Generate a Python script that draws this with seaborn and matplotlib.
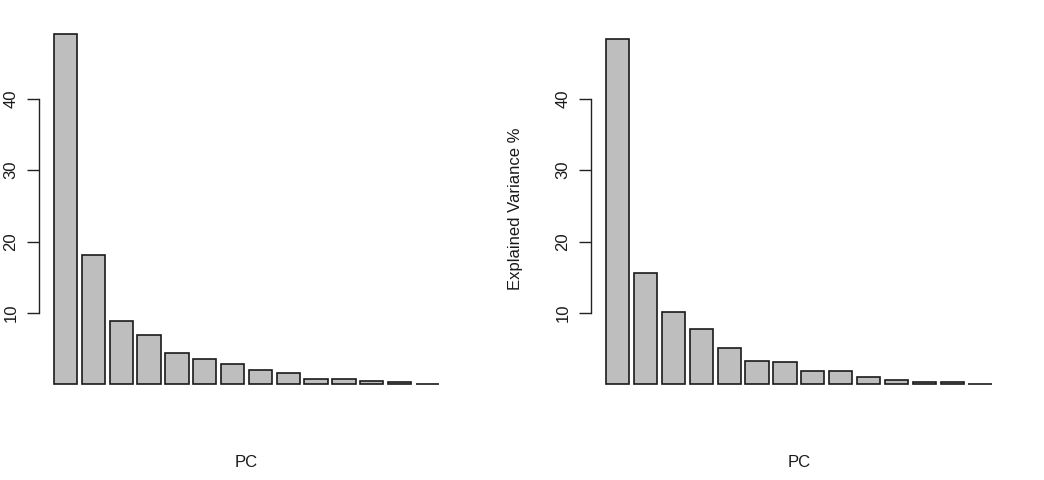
import matplotlib
matplotlib.use("Agg")
import matplotlib.pyplot as plt
import seaborn as sns
import pandas as pd

# ---- data (explained variance %) ----
pcs = [f"PC{i}" for i in range(1, 15)]
var_a = [49.06, 18.10, 8.93, 6.88, 4.37, 3.53, 2.87, 2.07, 1.61, 0.81, 0.77, 0.53, 0.35, 0.11]
var_b = [48.30, 15.57, 10.10, 7.72, 5.15, 3.33, 3.10, 1.89, 1.87, 1.10, 0.68, 0.40, 0.38, 0.10]
y_ticks = [10, 20, 30, 40]
x_label = "PC"
y_label = "Explained Variance %"

sns.set_theme(style="white")
plt.rcParams["font.family"] = ["Liberation Sans", "DejaVu Sans"]

W, H = 1044, 480
fig = plt.figure(figsize=(W / 100, H / 100), dpi=100)

def px_axes(x0, x1, y0, y1):
    return fig.add_axes([x0 / W, 1 - y1 / H, (x1 - x0) / W, (y1 - y0) / H])

axes = [px_axes(38.6, 454.4, 20, 398.5), px_axes(590.6, 1007.1, 20, 398.5)]

for i, (ax, vals) in enumerate(zip(axes, [var_a, var_b])):
    df = pd.DataFrame({"PC": pcs, "Variance": vals})
    sns.barplot(data=df, x="PC", y="Variance", ax=ax, color="#BEBEBE",
                saturation=1, width=1 / 1.2, edgecolor="#1a1a1a", linewidth=1.2)
    ax.set_xlim(-0.97, 13.97)
    ax.set_ylim(-1.96, 51.02)
    ax.set_facecolor("white")
    for s in ["top", "right", "bottom"]:
        ax.spines[s].set_visible(False)
    ax.spines["left"].set_bounds(10, 40)
    ax.spines["left"].set_color("#222222")
    ax.spines["left"].set_linewidth(1.0)
    ax.set_xticks([])
    ax.set_yticks(y_ticks)
    ax.set_yticklabels([str(t) for t in y_ticks], rotation=90, va="center", fontsize=12,
                       color="#1a1a1a")
    ax.tick_params(axis="y", left=True, length=8.6, width=1.0, color="#222222", pad=6)
    ax.set_xlabel(x_label, fontsize=12, color="#1a1a1a", va="center")
    ax.xaxis.set_label_coords(0.5, -0.1678)
    if i == 1:
        ax.set_ylabel(y_label, fontsize=12, color="#1a1a1a", va="center")
        ax.yaxis.set_label_coords(-0.181, 0.5)
    else:
        ax.set_ylabel("")

fig.savefig("out.png", dpi=100, facecolor="white")
